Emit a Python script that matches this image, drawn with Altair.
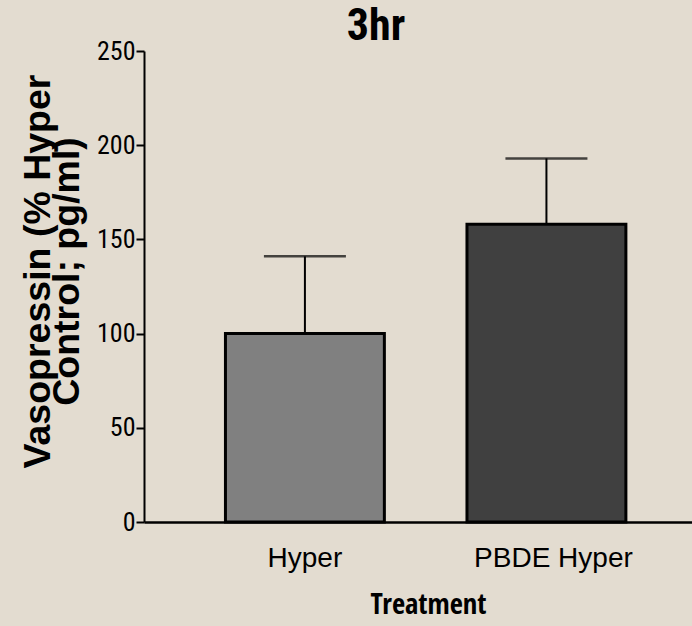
import altair as alt
import pandas as pd

# Vasopressin at 3 hr, expressed as % of the Hyper control group
treatments = ["Hyper", "PBDE Hyper"]
means = [100, 158]
upper = [141, 193]          # mean + SEM
bar_colors = ["#808080", "#404040"]
y_ticks = [0, 50, 100, 150, 200, 250]

df = pd.DataFrame({"treatment": treatments, "mean": means, "upper": upper, "color": bar_colors})

REGULAR = "Liberation Sans, Arial, sans-serif"
CONDENSED = "Open Sans Condensed, Roboto Condensed, Liberation Sans"
TICK_FONT = "Roboto Condensed, Liberation Sans"
TITLE_FONT = "Roboto Condensed, Open Sans Condensed, Liberation Sans"

x_enc = alt.X(
    "treatment:N",
    sort=treatments,
    scale=alt.Scale(paddingInner=0.342, paddingOuter=0.3055, align=0.552),
    axis=alt.Axis(
        title="Treatment",
        titleFont=CONDENSED,
        titleFontSize=28.5,
        titleFontWeight="bold",
        titleColor="black",
        titleBaseline="alphabetic",
        titleAlign="center",
        titleX=284,
        titleY=91,
        labelFont=REGULAR,
        labelFontSize=28,
        labelColor="black",
        labelAngle=0,
        labelAlign="center",
        labelPadding=36,
        labelOffset={"condition": {"test": "datum.label == 'PBDE Hyper'", "value": 7}, "value": 0},
        ticks=False,
        domainColor="black",
        domainWidth=2.5,
    ),
)

y_scale = alt.Scale(domain=[0, 250], nice=False, zero=True)

bars = alt.Chart(df).mark_bar(stroke="black", strokeWidth=3).encode(
    x=x_enc,
    y=alt.Y(
        "mean:Q",
        scale=y_scale,
        axis=alt.Axis(
            values=y_ticks,
            title=["Vasopressin (% Hyper", "Control; pg/ml)"],
            titleFont=REGULAR,
            titleFontSize=37.5,
            titleFontWeight="bold",
            titleColor="black",
            titleLineHeight=29,
            titleAngle=-90,
            titleAlign="center",
            titleBaseline="alphabetic",
            titleX=-95,
            titleY=220,
            labelFont=TICK_FONT,
            labelFontSize=26,
            labelFontWeight="normal",
            labelColor="black",
            labelPadding=1,
            tickSize=8,
            tickWidth=2,
            tickColor="black",
            domainColor="black",
            domainWidth=2,
            grid=False,
        ),
    ),
    color=alt.Color("color:N", scale=None),
)

stems = alt.Chart(df).mark_rule(color="black", strokeWidth=2).encode(
    x=alt.X("treatment:N", sort=treatments),
    y=alt.Y("mean:Q", scale=y_scale),
    y2="upper:Q",
)

caps = alt.Chart(df).mark_tick(color="black", thickness=2.5, size=82).encode(
    x=alt.X("treatment:N", sort=treatments),
    y=alt.Y("upper:Q", scale=y_scale),
)

chart = (
    alt.layer(stems, caps, bars)
    .properties(
        width=548,
        height=471,
        autosize=alt.AutoSizeParams(type="none"),
        padding={"left": 144, "top": 51, "right": 0, "bottom": 104},
        background="#e3dcd0",
        title=alt.TitleParams(
            "3hr",
            font=TITLE_FONT,
            fontSize=44,
            fontWeight="bold",
            color="black",
            anchor="middle",
            dx=-42,
            dy=58,
            baseline="alphabetic",
            offset=12,
        ),
    )
    .configure_view(stroke=None)
)

chart.save("out.html", embed_options={"renderer": "svg", "actions": False})
